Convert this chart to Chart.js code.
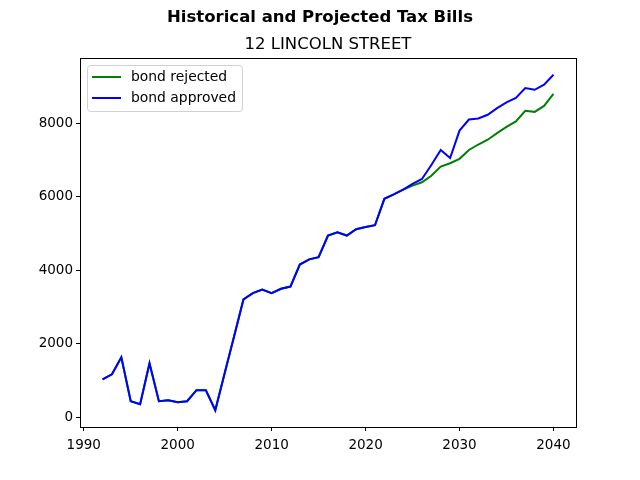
<!DOCTYPE html>
<html>
<head>
<meta charset="utf-8">
<script src="https://cdn.jsdelivr.net/npm/chart.js@4"></script>
<style>
  html, body { margin: 0; padding: 0; background: #fff; }
  #wrap { width: 640px; height: 480px; }
</style>
</head>
<body>
<div id="wrap"><canvas id="myChart" width="640" height="480"></canvas></div>
<script>
// years and tax bill values
const years = [1992, 1993, 1994, 1995, 1996, 1997, 1998, 1999, 2000, 2001,
	2002, 2003, 2004, 2005, 2006, 2007, 2008, 2009, 2010, 2011,
	2012, 2013, 2014, 2015, 2016, 2017, 2018, 2019, 2020, 2021,
	2022, 2023, 2024, 2025, 2026, 2027, 2028, 2029, 2030, 2031,
	2032, 2033, 2034, 2035, 2036, 2037, 2038, 2039, 2040];

const bondRejected = [1030, 1170, 1630, 435, 355, 1470, 435, 460, 410, 435,
	735, 735, 190, 1200, 2200, 3210, 3380, 3480, 3380, 3500,
	3560, 4160, 4300, 4360, 4950, 5040, 4950, 5120, 5180, 5230,
	5950, 6070, 6200, 6310, 6400, 6580, 6830, 6920, 7040, 7280,
	7430, 7560, 7740, 7910, 8060, 8350, 8320, 8480, 8810];

const bondApproved = [1030, 1170, 1630, 435, 355, 1470, 435, 460, 410, 435,
	735, 735, 190, 1200, 2200, 3210, 3380, 3480, 3380, 3500,
	3560, 4160, 4300, 4360, 4950, 5040, 4950, 5120, 5180, 5230,
	5950, 6070, 6200, 6360, 6490, 6870, 7280, 7060, 7810, 8110,
	8140, 8240, 8420, 8580, 8700, 8970, 8920, 9060, 9330];

const xTicks = [1990, 2000, 2010, 2020, 2030, 2040];
const yTicks = [0, 2000, 4000, 6000, 8000];

const mainTitle = 'Historical and Projected Tax Bills';
const subTitle = '12 LINCOLN STREET';

const FONT = 'DejaVu Sans';

// titles, frame around the plot area, legend inside top-left corner
const framePlugin = {
	id: 'frame',
	afterDraw(chart) {
		const ctx = chart.ctx;
		const a = chart.chartArea;
		ctx.save();

		// suptitle centred on the figure, axes title centred on the plot
		ctx.fillStyle = '#000';
		ctx.textAlign = 'center';
		ctx.textBaseline = 'middle';
		ctx.font = 'bold 16.5px "' + FONT + '"';
		ctx.fillText(mainTitle, chart.width / 2, 17.5);
		ctx.font = '16.5px "' + FONT + '"';
		ctx.fillText(subTitle, (a.left + a.right) / 2, 44.5);

		ctx.strokeStyle = '#000';
		ctx.lineWidth = 1;
		ctx.strokeRect(Math.round(a.left) + 0.5, Math.round(a.top) + 0.5,
			Math.round(a.right - a.left), Math.round(a.bottom - a.top));

		// legend
		ctx.textAlign = 'left';
		ctx.font = '13.9px "' + FONT + '"';
		const sets = chart.data.datasets;
		let textW = 0;
		sets.forEach((ds) => { textW = Math.max(textW, ctx.measureText(ds.label).width); });
		const bx = a.left + 7, by = a.top + 7;
		const bw = 44 + textW + 6, bh = 46;
		ctx.fillStyle = 'rgba(255,255,255,0.8)';
		ctx.strokeStyle = 'rgba(204,204,204,0.9)';
		ctx.beginPath();
		ctx.roundRect(bx + 0.5, by + 0.5, bw, bh, 3);
		ctx.fill();
		ctx.stroke();
		sets.forEach((ds, i) => {
			const y = by + 12 + i * 21;
			ctx.strokeStyle = ds.borderColor;
			ctx.lineWidth = 2;
			ctx.beginPath();
			ctx.moveTo(bx + 5, y);
			ctx.lineTo(bx + 34, y);
			ctx.stroke();
			ctx.fillStyle = '#000';
			ctx.textBaseline = 'middle';
			ctx.fillText(ds.label, bx + 44, y);
		});
		ctx.restore();
	}
};

const ctx = document.getElementById('myChart').getContext('2d');

const myChart = new Chart(ctx, {
	type: 'line',
	data: {
		datasets: [
			{
				label: 'bond rejected',
				data: years.map((yr, i) => ({ x: yr, y: bondRejected[i] })),
				borderColor: '#008000',
				borderWidth: 2,
				pointRadius: 0,
				order: 1
			},
			{
				label: 'bond approved',
				data: years.map((yr, i) => ({ x: yr, y: bondApproved[i] })),
				borderColor: '#0000ff',
				borderWidth: 2,
				pointRadius: 0,
				order: 0
			}
		]
	},
	options: {
		responsive: false,
		animation: false,
		layout: { padding: { left: 0, right: 64, top: 58, bottom: 0 } },
		plugins: {
			legend: { display: false },
			tooltip: { enabled: false },
			title: { display: false },
			subtitle: { display: false }
		},
		scales: {
			x: {
				type: 'linear',
				min: 1989.6,
				max: 2042.4,
				afterBuildTicks: (scale) => { scale.ticks = xTicks.map((v) => ({ value: v })); },
				afterFit: (scale) => { scale.height = 53; },
				grid: { drawOnChartArea: false, drawTicks: true, tickLength: 4, color: '#000' },
				border: { display: true, color: '#000' },
				ticks: {
					color: '#000',
					font: { family: FONT, size: 13.5 },
					padding: 6,
					maxRotation: 0,
					callback: (v) => String(v)
				}
			},
			y: {
				min: -267,
				max: 9787,
				afterBuildTicks: (scale) => { scale.ticks = yTicks.map((v) => ({ value: v })); },
				afterFit: (scale) => { scale.width = 80; },
				grid: { drawOnChartArea: false, drawTicks: true, tickLength: 4, color: '#000' },
				border: { display: true, color: '#000' },
				ticks: {
					color: '#000',
					font: { family: FONT, size: 13.5 },
					padding: 3,
					callback: (v) => String(v)
				}
			}
		}
	},
	plugins: [framePlugin]
});
</script>
</body>
</html>
